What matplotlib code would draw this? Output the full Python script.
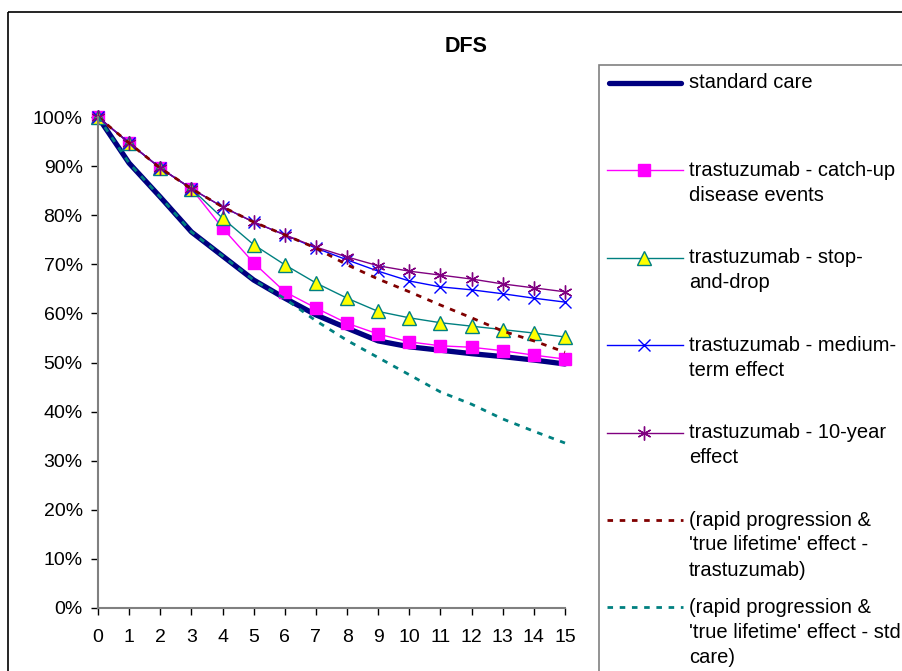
import matplotlib
matplotlib.use("Agg")
import matplotlib.pyplot as plt
from matplotlib.lines import Line2D
from matplotlib.patches import Rectangle
from matplotlib.ticker import PercentFormatter, MultipleLocator

plt.rcParams['font.family'] = ['Liberation Sans', 'DejaVu Sans']

# DFS curves, % of patients disease-free by year
years = list(range(16))
standard_care = [100, 90.6, 83.7, 76.6, 71.7, 66.8, 63.1, 59.7, 57.0, 54.4, 53.2, 52.5, 51.8, 51.2, 50.5, 49.7]
catch_up = [100, 94.7, 89.6, 85.4, 77.4, 70.3, 64.4, 61.1, 58.0, 55.8, 54.2, 53.4, 53.1, 52.4, 51.5, 50.7]
stop_and_drop = [100, 94.7, 89.6, 85.4, 79.4, 74.0, 69.9, 66.2, 63.1, 60.4, 59.1, 58.1, 57.4, 56.7, 56.0, 55.2]
medium_term = [100, 94.7, 89.6, 85.4, 81.7, 78.6, 76.0, 73.3, 70.9, 68.6, 66.6, 65.4, 64.8, 64.0, 63.1, 62.3]
ten_year = [100, 94.7, 89.6, 85.4, 81.7, 78.6, 76.0, 73.5, 71.5, 69.7, 68.6, 67.8, 67.0, 66.0, 65.2, 64.4]
rapid_trastuzumab = [100, 94.7, 89.6, 85.4, 81.7, 78.6, 76.0, 73.3, 69.9, 67.0, 64.4, 61.7, 59.1, 56.4, 54.4, 52.1]
rapid_std_care = [100, 90.6, 83.7, 76.6, 71.7, 66.8, 63.0, 58.5, 54.5, 51.0, 47.5, 44.0, 41.5, 38.5, 36.0, 33.6]

labels = [
    "standard care",
    "trastuzumab - catch-up\ndisease events",
    "trastuzumab - stop-\nand-drop",
    "trastuzumab - medium-\nterm effect",
    "trastuzumab - 10-year\neffect",
    "(rapid progression &\n'true lifetime' effect -\ntrastuzumab)",
    "(rapid progression &\n'true lifetime' effect - std\ncare)",
]

series = [standard_care, catch_up, stop_and_drop, medium_term, ten_year,
          rapid_trastuzumab, rapid_std_care]

styles = [
    dict(color='#000080', lw=3.8, solid_capstyle='round'),
    dict(color='#FF00FF', lw=1.0, marker='s', ms=8.5, mfc='#FF00FF', mec='#FF00FF'),
    dict(color='#008080', lw=1.0, marker='^', ms=9.5, mfc='#FFFF00', mec='#008080', mew=1.0),
    dict(color='#0000FF', lw=1.0, marker='x', ms=9, mew=1.0),
    dict(color='#800080', lw=1.0, marker=(6, 2, 0), ms=10, mew=1.0),
    dict(color='#800000', lw=2.0, dashes=(2.0, 2.4)),
    dict(color='#008080', lw=2.0, dashes=(2.0, 2.4)),
]

W, H = 902, 671
fig = plt.figure(figsize=(W / 100, H / 100), dpi=100)

# overlay in pixel units for the chart frame and the legend box
bg = fig.add_axes([0, 0, 1, 1])
bg.set_xlim(0, W)
bg.set_ylim(H, 0)
bg.axis('off')
bg.add_patch(Rectangle((8, 12), 1000, 1000, fill=False, ec='black', lw=1.2))
bg.add_patch(Rectangle((599, 65), 1000, 1000, fc='white', ec='#808080', lw=1.2))

for i, (label, st) in enumerate(zip(labels, styles)):
    y = 83 + 87.4 * i
    kw = dict(st)
    if 'marker' in kw:
        bg.add_line(Line2D([607, 683], [y, y], color=kw['color'], lw=kw['lw']))
        bg.add_line(Line2D([644], [y], ls='none',
                           **{k: v for k, v in kw.items() if k not in ('lw', 'solid_capstyle')}))
    else:
        bg.add_line(Line2D([609, 681] if 'dashes' not in kw else [607, 683], [y, y], **kw))
    for j, part in enumerate(label.split('\n')):
        bg.text(689, y + 25 * j, part, fontsize=14.5, va='center', ha='left')

fig.text(466 / W, 1 - 47 / H, 'DFS', ha='center', va='center', fontsize=15.5, fontweight='bold')

ax = fig.add_axes([98 / W, 1 - 608 / H, (565 - 98) / W, (608 - 117) / H])
ax.patch.set_alpha(0)
for vals, st in zip(series, styles):
    ax.plot(years, vals, clip_on=False, **st)

ax.set_xlim(0, 15)
ax.set_ylim(0, 100)
ax.xaxis.set_major_locator(MultipleLocator(1))
ax.yaxis.set_major_locator(MultipleLocator(10))
ax.yaxis.set_major_formatter(PercentFormatter(100, decimals=0))
for side in ('top', 'right'):
    ax.spines[side].set_visible(False)
for side in ('left', 'bottom'):
    ax.spines[side].set_color('#808080')
    ax.spines[side].set_linewidth(1.5)
ax.tick_params(axis='y', direction='out', length=5, width=1, color='black', pad=6, labelsize=14)
ax.tick_params(axis='x', direction='out', length=5, width=1, color='black', pad=10, labelsize=14)

fig.savefig('out.png', dpi=100)
